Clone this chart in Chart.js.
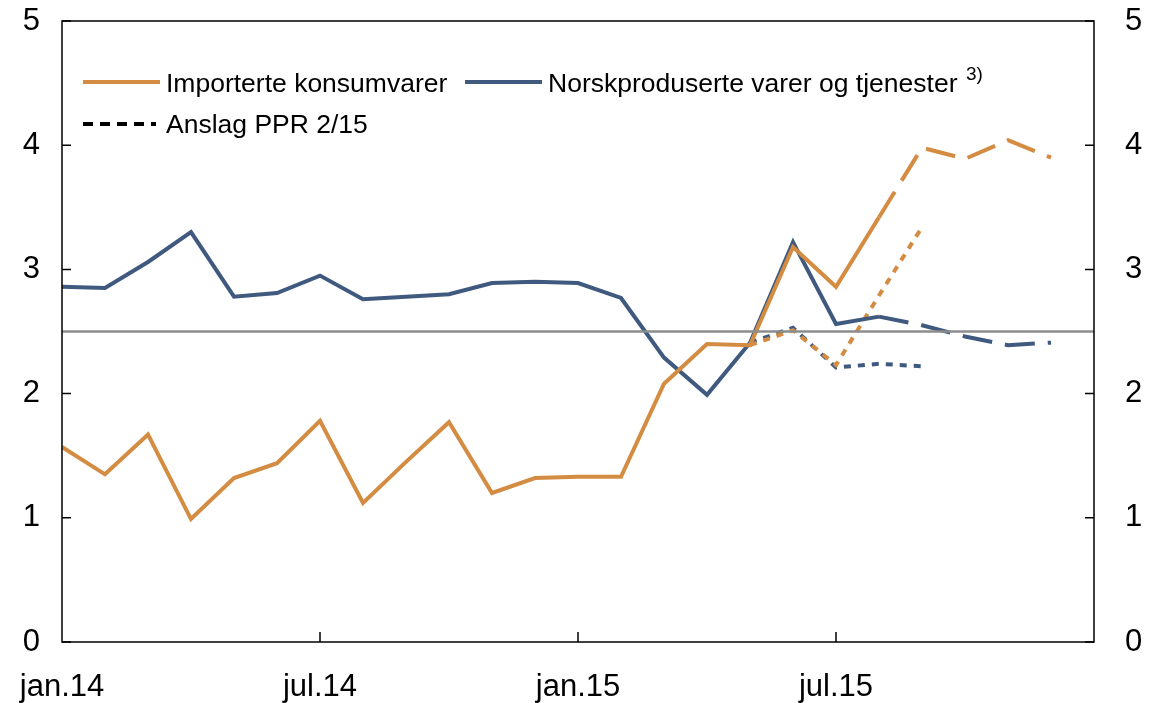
<!DOCTYPE html>
<html>
<head>
<meta charset="utf-8">
<script src="https://cdn.jsdelivr.net/npm/chart.js@4"></script>
<style>
  html, body { margin: 0; padding: 0; background: #fff; }
  #wrap { width: 1150px; height: 703px; }
</style>
</head>
<body>
<div id="wrap"><canvas id="myLineChart" width="1150" height="703"></canvas></div>
<script>
// months jan.14 - jan.16
const months = ['jan', 'feb', 'mar', 'apr', 'mai', 'jun', 'jul', 'aug', 'sep', 'okt', 'nov', 'des'];
const labels = [];
for (let y = 14; y <= 16; y++) {
    months.forEach(m => labels.push(m + '.' + y));
}
labels.length = 25;
const shownLabels = ['jan.14', 'jul.14', 'jan.15', 'jul.15'];

// Importerte konsumvarer (actual, jan.14 - aug.15)
const importert = [1.57, 1.35, 1.67, 0.99, 1.32, 1.44, 1.78, 1.12, 1.45, 1.77, 1.20, 1.32, 1.33, 1.33,
    2.08, 2.40, 2.39, 3.18, 2.86, 3.42];
// Importerte konsumvarer, projection (aug.15 - des.15)
const importertAnslag = [null, null, null, null, null, null, null, null, null, null, null, null, null, null,
    null, null, null, null, null, 3.42, 3.98, 3.89, 4.04, 3.90];
// Norskproduserte varer og tjenester (actual)
const norsk = [2.86, 2.85, 3.06, 3.30, 2.78, 2.81, 2.95, 2.76, 2.78, 2.80, 2.89, 2.90, 2.89, 2.77,
    2.29, 1.99, 2.41, 3.22, 2.56, 2.62];
// Norskproduserte, projection
const norskAnslag = [null, null, null, null, null, null, null, null, null, null, null, null, null, null,
    null, null, null, null, null, 2.62, 2.55, 2.46, 2.39, 2.41];
// Anslag PPR 2/15
const pprImportert = [null, null, null, null, null, null, null, null, null, null, null, null, null, null,
    null, null, 2.39, 2.51, 2.23, 2.79, 3.34];
const pprNorsk = [null, null, null, null, null, null, null, null, null, null, null, null, null, null,
    null, null, 2.41, 2.53, 2.21, 2.24, 2.22];
const inflasjonsmaal = 2.5;

const orange = '#d38c42';
const blue = '#3f5a7e';
const fontFamily = '"Liberation Sans", Arial, Helvetica, sans-serif';

const frame = {
    id: 'frame',
    afterDraw(chart) {
        const { ctx, chartArea: a, scales } = chart;
        ctx.save();
        ctx.strokeStyle = '#000';
        ctx.lineWidth = 1.5;
        ctx.strokeRect(a.left, a.top, a.right - a.left, a.bottom - a.top);
        ctx.beginPath();
        for (let v = 0; v <= 5; v++) {
            const y = scales.y.getPixelForValue(v);
            ctx.moveTo(a.left, y); ctx.lineTo(a.left + 9, y);
            ctx.moveTo(a.right, y); ctx.lineTo(a.right - 9, y);
        }
        [6, 12, 18].forEach(i => {
            const x = scales.x.getPixelForValue(i);
            ctx.moveTo(x, a.bottom); ctx.lineTo(x, a.bottom - 10);
        });
        ctx.stroke();

        // legend
        ctx.lineWidth = 4;
        ctx.strokeStyle = orange;
        ctx.beginPath(); ctx.moveTo(83, 82); ctx.lineTo(160, 82); ctx.stroke();
        ctx.strokeStyle = blue;
        ctx.beginPath(); ctx.moveTo(465, 82); ctx.lineTo(542, 82); ctx.stroke();
        ctx.strokeStyle = '#000';
        ctx.setLineDash([10, 7]);
        ctx.beginPath(); ctx.moveTo(83, 124); ctx.lineTo(156, 124); ctx.stroke();
        ctx.setLineDash([]);
        ctx.fillStyle = '#000';
        ctx.textBaseline = 'alphabetic';
        ctx.textAlign = 'left';
        ctx.font = '26.5px ' + fontFamily;
        ctx.fillText('Importerte konsumvarer', 166, 92);
        ctx.fillText('Norskproduserte varer og tjenester', 548, 92);
        ctx.fillText('Anslag PPR 2/15', 166, 133);
        ctx.font = '19px ' + fontFamily;
        ctx.fillText('3)', 966, 80);
        ctx.restore();
    }
};

function noPad(s) {
    s.paddingTop = 0; s.paddingBottom = 0; s.paddingLeft = 0; s.paddingRight = 0;
}

document.addEventListener('DOMContentLoaded', function () {
    const ctx = document.getElementById('myLineChart').getContext('2d');
    const lineBase = { pointRadius: 0, borderWidth: 4, fill: false, spanGaps: false, tension: 0 };
    new Chart(ctx, {
        type: 'line',
        data: {
            labels: labels,
            datasets: [
                { ...lineBase, label: 'Inflasjonsmål', data: labels.map(() => inflasjonsmaal), borderColor: '#8c8c8c', borderWidth: 2.5 },
                { ...lineBase, label: 'Importerte konsumvarer', data: importert, borderColor: orange },
                { ...lineBase, label: 'Importerte anslag', data: importertAnslag, borderColor: orange, borderDash: [30, 13] },
                { ...lineBase, label: 'Norskproduserte varer og tjenester', data: norsk, borderColor: blue },
                { ...lineBase, label: 'Norskproduserte anslag', data: norskAnslag, borderColor: blue, borderDash: [30, 13] },
                { ...lineBase, label: 'Anslag PPR 2/15 imp', data: pprImportert, borderColor: orange, borderDash: [7, 7] },
                { ...lineBase, label: 'Anslag PPR 2/15 norsk', data: pprNorsk, borderColor: blue, borderDash: [7, 7] }
            ]
        },
        options: {
            responsive: false,
            animation: false,
            devicePixelRatio: 1,
            layout: { padding: { top: 21, left: 0, right: 0, bottom: 0 } },
            plugins: {
                legend: { display: false },
                tooltip: { enabled: false }
            },
            scales: {
                x: {
                    offset: false,
                    grid: { display: false, drawTicks: false },
                    border: { display: false },
                    afterFit: s => { s.height = 61; noPad(s); },
                    ticks: {
                        autoSkip: false,
                        maxRotation: 0,
                        padding: 27,
                        color: '#000',
                        font: { family: fontFamily, size: 31 },
                        callback: function (v) {
                            const l = this.getLabelForValue(v);
                            return shownLabels.includes(l) ? l : '';
                        }
                    }
                },
                y: {
                    position: 'left',
                    min: 0, max: 5,
                    grid: { display: false, drawTicks: false },
                    border: { display: false },
                    afterFit: s => { s.width = 62; noPad(s); },
                    ticks: { stepSize: 1, padding: 22, color: '#000', font: { family: fontFamily, size: 31 } }
                },
                y2: {
                    position: 'right',
                    min: 0, max: 5,
                    grid: { display: false, drawTicks: false },
                    border: { display: false },
                    afterFit: s => { s.width = 56; noPad(s); },
                    ticks: { stepSize: 1, padding: 31, color: '#000', font: { family: fontFamily, size: 31 } }
                }
            }
        },
        plugins: [frame]
    });
});
</script>
</body>
</html>
